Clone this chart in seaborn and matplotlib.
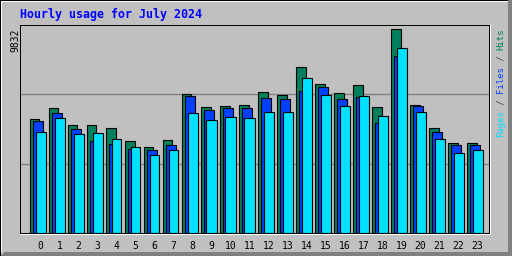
import numpy as np
import matplotlib
matplotlib.use("Agg")
import matplotlib.pyplot as plt
from matplotlib.patches import Rectangle, Polygon
import seaborn as sns

# ---- data ----
hours = np.arange(24)
hits = [5509, 6025, 5206, 5206, 5061, 4434, 4145, 4483, 6700, 6073, 6121, 6170,
        6796, 6652, 8001, 7182, 6748, 7134, 6073, 9832, 6170, 5061, 4338, 4338]
files = [5398, 5798, 5013, 4449, 4304, 4063, 4001, 4242, 6603, 5929, 6025, 6025,
         6507, 6459, 6859, 7037, 6459, 6555, 5302, 8531, 6121, 4868, 4242, 4242]
pages = [4868, 5543, 4772, 4820, 4531, 4145, 3760, 4001, 5784, 5461, 5606, 5543,
         5832, 5832, 7471, 6652, 6121, 6603, 5639, 8917, 5832, 4531, 3856, 4001]
max_label = "9832"
title = "Hourly usage for July 2024"
c_hits, c_files, c_pages = "#00805c", "#0040ff", "#00e0ff"
bg = "#c0c0c0"

W, H = 512, 256
sns.set_theme(style="white")
plt.rcParams["font.family"] = ["DejaVu Sans Mono", "DejaVu Sans"]

fig = plt.figure(figsize=(W / 100, H / 100), dpi=100, facecolor=bg)

# plot area in pixels
px0, px1, py0, py1 = 20, 490, 25, 233
ax = fig.add_axes([px0 / W, 1 - py1 / H, (px1 - px0) / W, (py1 - py0) / H])
ax.set_facecolor(bg)

pxh = 19.0            # pixels per hour
off = 3 / pxh         # offset between overlapping bars
bw = 10 / pxh         # bar width
ymax = max(hits) * 1.021

for g in (1 / 3, 2 / 3):
    ax.axhline(ymax * g, color="#808080", lw=1.0, zorder=0.5)

for vals, col, d in ((hits, c_hits, -off), (files, c_files, 0.0), (pages, c_pages, off)):
    sns.barplot(x=hours + d, y=vals, native_scale=True, width=bw, color=col,
                saturation=1, edgecolor="black", linewidth=0.8, errorbar=None,
                ax=ax, zorder=2)

ax.set_xlim((px0 - 37.5) / pxh, (px1 - 37.5) / pxh)
ax.set_ylim(0, ymax)
ax.set_xticks(hours + off)
ax.set_xticklabels([str(h) for h in hours], fontsize=7, color="black")
ax.set_yticks([])
ax.tick_params(axis="x", length=0, pad=6)
ax.set_xlabel("")
ax.set_ylabel("")
for s in ax.spines.values():
    s.set_visible(False)


def prect(x0, y0, x1, y1, color):
    fig.add_artist(Rectangle((x0 / W, 1 - y1 / H), (x1 - x0) / W, (y1 - y0) / H,
                             transform=fig.transFigure, color=color, lw=0,
                             antialiased=False, zorder=5))


def ppoly(pts, color):
    fig.add_artist(Polygon([(x / W, 1 - y / H) for x, y in pts], closed=True,
                           transform=fig.transFigure, color=color, lw=0,
                           antialiased=False, zorder=5))


# outer bevel
prect(0, 0, W, 1, "black")
prect(0, 0, 1, H, "black")
prect(1, 1, 508, 2, "white")
prect(1, 1, 2, 252, "white")
ppoly([(508, 1), (512, 0), (512, 256), (508, 252)], "#808080")
ppoly([(1, 256), (5, 252), (508, 252), (512, 256)], "#808080")

# plot frame
prect(px0, py0, px1, py0 + 1, "black")
prect(px0, py0, px0 + 1, py1 + 1, "black")
prect(px0, py1, px1, py1 + 1, "black")
prect(px1 - 1, py0, px1, py1 + 1, "black")
prect(px0, py1 + 1, px1 + 1, py1 + 2, "white")
prect(px1, py0, px1 + 1, py1 + 2, "white")

# title
fig.text(20 / W, 1 - 18.3 / H, title, color="#0000ff", fontsize=8.4,
         fontweight="bold", ha="left", va="baseline")

# max label
fig.text(15 / W, 1 - 28 / H, max_label, rotation=90, fontsize=7, color="black",
         ha="center", va="top")

# right legend: Pages / Files / Hits, reading bottom to top
pieces = [("Pages", c_pages), (" / ", "#404040"), ("Files", c_files),
          (" / ", "#404040"), ("Hits", c_hits)]
cw = 5.45
start = 137
k = 0
for txt, col in pieces:
    y = start - k * cw
    fig.text(500.5 / W, 1 - y / H, txt, rotation=90, rotation_mode="anchor",
             fontsize=6.5, color=col, ha="left", va="center")
    k += len(txt)

fig.savefig("out.png", dpi=100, facecolor=bg)
